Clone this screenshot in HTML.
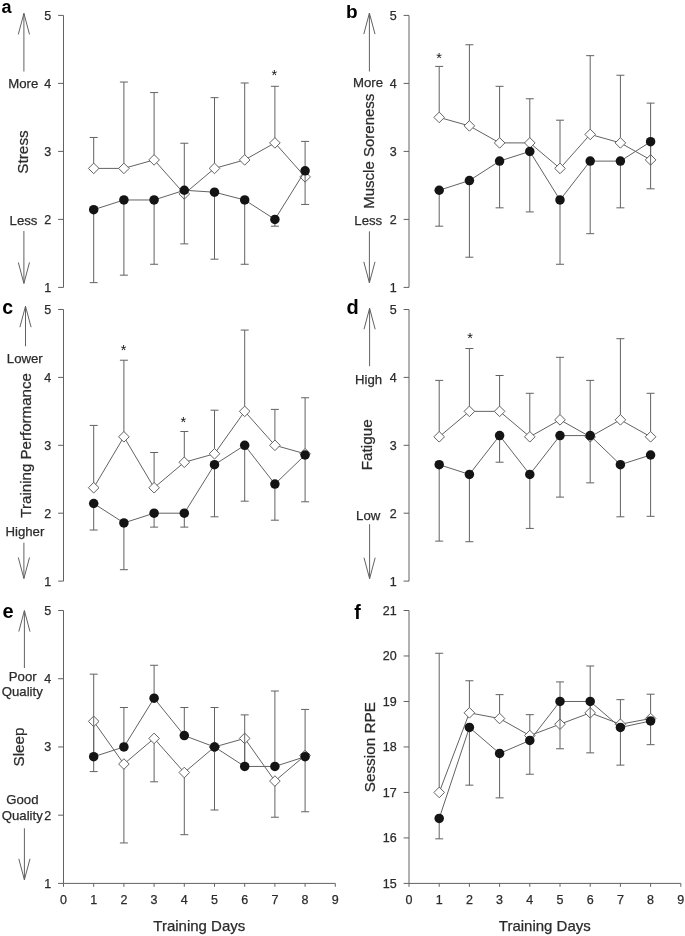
<!DOCTYPE html>
<html><head><meta charset="utf-8"><title>Figure</title>
<style>
html,body{margin:0;padding:0;background:#fff;}
body{width:685px;height:936px;overflow:hidden;}
svg{display:block;will-change:transform;}
text{font-family:"Liberation Sans",sans-serif;fill:#2b2b2b;stroke:#2b2b2b;stroke-width:0.25px;}
.l{fill:none;stroke:#626262;stroke-width:1.0;}
.d{fill:#fff;stroke:#626262;stroke-width:1.0;}
.c{fill:#141414;}
.n{font-size:12.5px;}
.t{font-size:13.2px;}
.v{font-size:15.2px;}
.h{font-size:15px;}
.b{font-size:17.5px;font-weight:bold;fill:#000;stroke:none;}
.s{font-size:14.5px;fill:#111;stroke:none;}
</style></head>
<body>
<svg width="685" height="936" viewBox="0 0 685 936">
<rect width="685" height="936" fill="#fff"/>
<path d="M63.5 15.4V287.4" class="l"/>
<path d="M58.1 287.4H63.5" class="l"/>
<path d="M58.1 219.4H63.5" class="l"/>
<path d="M58.1 151.4H63.5" class="l"/>
<path d="M58.1 83.4H63.5" class="l"/>
<path d="M58.1 15.4H63.5" class="l"/>
<path d="M93.7 168.4V137.46M89.7 137.46h8" class="l"/>
<path d="M123.9 168.4V82.04M119.9 82.04h8" class="l"/>
<path d="M154.1 159.9V92.58M150.1 92.58h8" class="l"/>
<path d="M184.3 193.9V143.24M180.3 143.24h8" class="l"/>
<path d="M214.5 168.4V97.68M210.5 97.68h8" class="l"/>
<path d="M244.7 159.9V82.99M240.7 82.99h8" class="l"/>
<path d="M274.9 142.9V86.32M270.9 86.32h8" class="l"/>
<path d="M305.1 176.9V141.4M301.1 141.4h8" class="l"/>
<polyline points="93.7,168.4 123.9,168.4 154.1,159.9 184.3,193.9 214.5,168.4 244.7,159.9 274.9,142.9 305.1,176.9" class="l"/>
<path d="M93.7 163.1L99 168.4L93.7 173.7L88.4 168.4Z" class="d"/>
<path d="M123.9 163.1L129.2 168.4L123.9 173.7L118.6 168.4Z" class="d"/>
<path d="M154.1 154.6L159.4 159.9L154.1 165.2L148.8 159.9Z" class="d"/>
<path d="M184.3 188.6L189.6 193.9L184.3 199.2L179 193.9Z" class="d"/>
<path d="M214.5 163.1L219.8 168.4L214.5 173.7L209.2 168.4Z" class="d"/>
<path d="M244.7 154.6L250 159.9L244.7 165.2L239.4 159.9Z" class="d"/>
<path d="M274.9 137.6L280.2 142.9L274.9 148.2L269.6 142.9Z" class="d"/>
<path d="M305.1 171.6L310.4 176.9L305.1 182.2L299.8 176.9Z" class="d"/>
<path d="M93.7 209.69V282.64M89.7 282.64h8" class="l"/>
<path d="M123.9 199.97V275.16M119.9 275.16h8" class="l"/>
<path d="M154.1 199.97V264.28M150.1 264.28h8" class="l"/>
<path d="M184.3 190.26V243.88M180.3 243.88h8" class="l"/>
<path d="M214.5 192.2V259.18M210.5 259.18h8" class="l"/>
<path d="M244.7 199.97V264.28M240.7 264.28h8" class="l"/>
<path d="M274.9 219.4V226.2M270.9 226.2h8" class="l"/>
<path d="M305.1 170.83V204.44M301.1 204.44h8" class="l"/>
<polyline points="93.7,209.69 123.9,199.97 154.1,199.97 184.3,190.26 214.5,192.2 244.7,199.97 274.9,219.4 305.1,170.83" class="l"/>
<circle cx="93.7" cy="209.69" r="4.75" class="c"/>
<circle cx="123.9" cy="199.97" r="4.75" class="c"/>
<circle cx="154.1" cy="199.97" r="4.75" class="c"/>
<circle cx="184.3" cy="190.26" r="4.75" class="c"/>
<circle cx="214.5" cy="192.2" r="4.75" class="c"/>
<circle cx="244.7" cy="199.97" r="4.75" class="c"/>
<circle cx="274.9" cy="219.4" r="4.75" class="c"/>
<circle cx="305.1" cy="170.83" r="4.75" class="c"/>
<text x="51.1" y="291.9" class="n" text-anchor="end">1</text>
<text x="51.1" y="223.9" class="n" text-anchor="end">2</text>
<text x="51.1" y="155.9" class="n" text-anchor="end">3</text>
<text x="51.1" y="87.9" class="n" text-anchor="end">4</text>
<text x="51.1" y="19.9" class="n" text-anchor="end">5</text>
<text x="1.6" y="12.5" class="b" style="font-size:18px">a</text>
<path d="M23.9 71.5V13.4M18.3 34.4L23.9 13.4L29.5 34.4" class="l"/>
<text x="23.2" y="87.5" class="t" text-anchor="middle">More</text>
<text transform="translate(27.5 152) rotate(-90)" class="v" style="font-size:15.3px" text-anchor="middle">Stress</text>
<text x="23.5" y="225" class="t" text-anchor="middle">Less</text>
<path d="M23.9 231V283.4M18.3 262.4L23.9 283.4L29.5 262.4" class="l"/>
<text x="274.3" y="80" class="s" text-anchor="middle">*</text>
<path d="M409 15.4V287.4" class="l"/>
<path d="M403.6 287.4H409" class="l"/>
<path d="M403.6 219.4H409" class="l"/>
<path d="M403.6 151.4H409" class="l"/>
<path d="M403.6 83.4H409" class="l"/>
<path d="M403.6 15.4H409" class="l"/>
<path d="M439.2 117.4V66.4M435.2 66.4h8" class="l"/>
<path d="M469.4 125.9V44.78M465.4 44.78h8" class="l"/>
<path d="M499.6 142.9V86.32M495.6 86.32h8" class="l"/>
<path d="M529.8 142.9V98.77M525.8 98.77h8" class="l"/>
<path d="M560 168.4V120.19M556 120.19h8" class="l"/>
<path d="M590.2 134.4V55.66M586.2 55.66h8" class="l"/>
<path d="M620.4 142.9V75.24M616.4 75.24h8" class="l"/>
<path d="M650.6 159.9V103.12M646.6 103.12h8" class="l"/>
<polyline points="439.2,117.4 469.4,125.9 499.6,142.9 529.8,142.9 560,168.4 590.2,134.4 620.4,142.9 650.6,159.9" class="l"/>
<path d="M439.2 112.1L444.5 117.4L439.2 122.7L433.9 117.4Z" class="d"/>
<path d="M469.4 120.6L474.7 125.9L469.4 131.2L464.1 125.9Z" class="d"/>
<path d="M499.6 137.6L504.9 142.9L499.6 148.2L494.3 142.9Z" class="d"/>
<path d="M529.8 137.6L535.1 142.9L529.8 148.2L524.5 142.9Z" class="d"/>
<path d="M560 163.1L565.3 168.4L560 173.7L554.7 168.4Z" class="d"/>
<path d="M590.2 129.1L595.5 134.4L590.2 139.7L584.9 134.4Z" class="d"/>
<path d="M620.4 137.6L625.7 142.9L620.4 148.2L615.1 142.9Z" class="d"/>
<path d="M650.6 154.6L655.9 159.9L650.6 165.2L645.3 159.9Z" class="d"/>
<path d="M439.2 190.26V226.2M435.2 226.2h8" class="l"/>
<path d="M469.4 180.54V257.21M465.4 257.21h8" class="l"/>
<path d="M499.6 161.11V207.84M495.6 207.84h8" class="l"/>
<path d="M529.8 151.4V211.92M525.8 211.92h8" class="l"/>
<path d="M560 199.97V264.28M556 264.28h8" class="l"/>
<path d="M590.2 161.11V233.68M586.2 233.68h8" class="l"/>
<path d="M620.4 161.11V207.84M616.4 207.84h8" class="l"/>
<path d="M650.6 141.69V188.8M646.6 188.8h8" class="l"/>
<polyline points="439.2,190.26 469.4,180.54 499.6,161.11 529.8,151.4 560,199.97 590.2,161.11 620.4,161.11 650.6,141.69" class="l"/>
<circle cx="439.2" cy="190.26" r="4.75" class="c"/>
<circle cx="469.4" cy="180.54" r="4.75" class="c"/>
<circle cx="499.6" cy="161.11" r="4.75" class="c"/>
<circle cx="529.8" cy="151.4" r="4.75" class="c"/>
<circle cx="560" cy="199.97" r="4.75" class="c"/>
<circle cx="590.2" cy="161.11" r="4.75" class="c"/>
<circle cx="620.4" cy="161.11" r="4.75" class="c"/>
<circle cx="650.6" cy="141.69" r="4.75" class="c"/>
<text x="396.6" y="291.9" class="n" text-anchor="end">1</text>
<text x="396.6" y="223.9" class="n" text-anchor="end">2</text>
<text x="396.6" y="155.9" class="n" text-anchor="end">3</text>
<text x="396.6" y="87.9" class="n" text-anchor="end">4</text>
<text x="396.6" y="19.9" class="n" text-anchor="end">5</text>
<text x="346" y="18.1" class="b" style="font-size:19px">b</text>
<path d="M369.4 71.5V13.1M363.8 34.1L369.4 13.1L375 34.1" class="l"/>
<text x="368" y="86.5" class="t" text-anchor="middle">More</text>
<text transform="translate(374.3 151.2) rotate(-90)" class="v" style="font-size:15.0px" text-anchor="middle">Muscle Soreness</text>
<text x="368.3" y="225" class="t" text-anchor="middle">Less</text>
<path d="M369.4 231.3V282.8M363.8 261.8L369.4 282.8L375 261.8" class="l"/>
<text x="439.1" y="62.8" class="s" text-anchor="middle">*</text>
<path d="M63.5 309.5V581.1" class="l"/>
<path d="M58.1 581.1H63.5" class="l"/>
<path d="M58.1 513.2H63.5" class="l"/>
<path d="M58.1 445.3H63.5" class="l"/>
<path d="M58.1 377.4H63.5" class="l"/>
<path d="M58.1 309.5H63.5" class="l"/>
<path d="M93.7 487.74V425.41M89.7 425.41h8" class="l"/>
<path d="M123.9 436.81V360.22M119.9 360.22h8" class="l"/>
<path d="M154.1 487.74V452.5M150.1 452.5h8" class="l"/>
<path d="M184.3 462.27V431.52M180.3 431.52h8" class="l"/>
<path d="M214.5 453.79V410.2M210.5 410.2h8" class="l"/>
<path d="M244.7 411.35V330.07M240.7 330.07h8" class="l"/>
<path d="M274.9 445.3V409.38M270.9 409.38h8" class="l"/>
<path d="M305.1 453.79V397.77M301.1 397.77h8" class="l"/>
<polyline points="93.7,487.74 123.9,436.81 154.1,487.74 184.3,462.27 214.5,453.79 244.7,411.35 274.9,445.3 305.1,453.79" class="l"/>
<path d="M93.7 482.44L99 487.74L93.7 493.04L88.4 487.74Z" class="d"/>
<path d="M123.9 431.51L129.2 436.81L123.9 442.11L118.6 436.81Z" class="d"/>
<path d="M154.1 482.44L159.4 487.74L154.1 493.04L148.8 487.74Z" class="d"/>
<path d="M184.3 456.97L189.6 462.27L184.3 467.57L179 462.27Z" class="d"/>
<path d="M214.5 448.49L219.8 453.79L214.5 459.09L209.2 453.79Z" class="d"/>
<path d="M244.7 406.05L250 411.35L244.7 416.65L239.4 411.35Z" class="d"/>
<path d="M274.9 440L280.2 445.3L274.9 450.6L269.6 445.3Z" class="d"/>
<path d="M305.1 448.49L310.4 453.79L305.1 459.09L299.8 453.79Z" class="d"/>
<path d="M93.7 503.5V530.04M89.7 530.04h8" class="l"/>
<path d="M123.9 522.9V569.69M119.9 569.69h8" class="l"/>
<path d="M154.1 513.2V527.12M150.1 527.12h8" class="l"/>
<path d="M184.3 513.2V527.12M180.3 527.12h8" class="l"/>
<path d="M214.5 464.7V516.8M210.5 516.8h8" class="l"/>
<path d="M244.7 445.3V501.18M240.7 501.18h8" class="l"/>
<path d="M274.9 484.1V520.19M270.9 520.19h8" class="l"/>
<path d="M305.1 455V501.79M301.1 501.79h8" class="l"/>
<polyline points="93.7,503.5 123.9,522.9 154.1,513.2 184.3,513.2 214.5,464.7 244.7,445.3 274.9,484.1 305.1,455" class="l"/>
<circle cx="93.7" cy="503.5" r="4.75" class="c"/>
<circle cx="123.9" cy="522.9" r="4.75" class="c"/>
<circle cx="154.1" cy="513.2" r="4.75" class="c"/>
<circle cx="184.3" cy="513.2" r="4.75" class="c"/>
<circle cx="214.5" cy="464.7" r="4.75" class="c"/>
<circle cx="244.7" cy="445.3" r="4.75" class="c"/>
<circle cx="274.9" cy="484.1" r="4.75" class="c"/>
<circle cx="305.1" cy="455" r="4.75" class="c"/>
<text x="51.1" y="585.6" class="n" text-anchor="end">1</text>
<text x="51.1" y="517.7" class="n" text-anchor="end">2</text>
<text x="51.1" y="449.8" class="n" text-anchor="end">3</text>
<text x="51.1" y="381.9" class="n" text-anchor="end">4</text>
<text x="51.1" y="314" class="n" text-anchor="end">5</text>
<text x="2.2" y="314" class="b" style="font-size:19.5px">c</text>
<path d="M25.5 346.3V306.2M19.9 327.2L25.5 306.2L31.1 327.2" class="l"/>
<text x="24.8" y="363" class="t" text-anchor="middle">Lower</text>
<text transform="translate(30.7 445.4) rotate(-90)" class="v" style="font-size:15.1px" text-anchor="middle">Training Performance</text>
<text x="24.9" y="536.4" class="t" text-anchor="middle">Higher</text>
<path d="M23.9 542.7V578.5M18.3 557.5L23.9 578.5L29.5 557.5" class="l"/>
<text x="123.7" y="354.6" class="s" text-anchor="middle">*</text>
<text x="183.3" y="426.5" class="s" text-anchor="middle">*</text>
<path d="M409 309.5V581.1" class="l"/>
<path d="M403.6 581.1H409" class="l"/>
<path d="M403.6 513.2H409" class="l"/>
<path d="M403.6 445.3H409" class="l"/>
<path d="M403.6 377.4H409" class="l"/>
<path d="M403.6 309.5H409" class="l"/>
<path d="M439.2 436.81V380.39M435.2 380.39h8" class="l"/>
<path d="M469.4 411.35V348.54M465.4 348.54h8" class="l"/>
<path d="M499.6 411.35V375.5M495.6 375.5h8" class="l"/>
<path d="M529.8 436.81V393.29M525.8 393.29h8" class="l"/>
<path d="M560 419.84V357.3M556 357.3h8" class="l"/>
<path d="M590.2 436.81V380.39M586.2 380.39h8" class="l"/>
<path d="M620.4 419.84V338.7M616.4 338.7h8" class="l"/>
<path d="M650.6 436.81V393.29M646.6 393.29h8" class="l"/>
<polyline points="439.2,436.81 469.4,411.35 499.6,411.35 529.8,436.81 560,419.84 590.2,436.81 620.4,419.84 650.6,436.81" class="l"/>
<path d="M439.2 431.51L444.5 436.81L439.2 442.11L433.9 436.81Z" class="d"/>
<path d="M469.4 406.05L474.7 411.35L469.4 416.65L464.1 411.35Z" class="d"/>
<path d="M499.6 406.05L504.9 411.35L499.6 416.65L494.3 411.35Z" class="d"/>
<path d="M529.8 431.51L535.1 436.81L529.8 442.11L524.5 436.81Z" class="d"/>
<path d="M560 414.54L565.3 419.84L560 425.14L554.7 419.84Z" class="d"/>
<path d="M590.2 431.51L595.5 436.81L590.2 442.11L584.9 436.81Z" class="d"/>
<path d="M620.4 414.54L625.7 419.84L620.4 425.14L615.1 419.84Z" class="d"/>
<path d="M650.6 431.51L655.9 436.81L650.6 442.11L645.3 436.81Z" class="d"/>
<path d="M439.2 464.7V541.11M435.2 541.11h8" class="l"/>
<path d="M469.4 474.4V541.72M465.4 541.72h8" class="l"/>
<path d="M499.6 435.6V462.21M495.6 462.21h8" class="l"/>
<path d="M529.8 474.4V528.41M525.8 528.41h8" class="l"/>
<path d="M560 435.6V497.11M556 497.11h8" class="l"/>
<path d="M590.2 435.6V482.85M586.2 482.85h8" class="l"/>
<path d="M620.4 464.7V516.8M616.4 516.8h8" class="l"/>
<path d="M650.6 455V516.32M646.6 516.32h8" class="l"/>
<polyline points="439.2,464.7 469.4,474.4 499.6,435.6 529.8,474.4 560,435.6 590.2,435.6 620.4,464.7 650.6,455" class="l"/>
<circle cx="439.2" cy="464.7" r="4.75" class="c"/>
<circle cx="469.4" cy="474.4" r="4.75" class="c"/>
<circle cx="499.6" cy="435.6" r="4.75" class="c"/>
<circle cx="529.8" cy="474.4" r="4.75" class="c"/>
<circle cx="560" cy="435.6" r="4.75" class="c"/>
<circle cx="590.2" cy="435.6" r="4.75" class="c"/>
<circle cx="620.4" cy="464.7" r="4.75" class="c"/>
<circle cx="650.6" cy="455" r="4.75" class="c"/>
<text x="396.6" y="585.6" class="n" text-anchor="end">1</text>
<text x="396.6" y="517.7" class="n" text-anchor="end">2</text>
<text x="396.6" y="449.8" class="n" text-anchor="end">3</text>
<text x="396.6" y="381.9" class="n" text-anchor="end">4</text>
<text x="396.6" y="314" class="n" text-anchor="end">5</text>
<text x="346.6" y="314.3" class="b" style="font-size:20px">d</text>
<path d="M369.6 366.2V308.3M364 329.3L369.6 308.3L375.2 329.3" class="l"/>
<text x="368.6" y="383.6" class="t" text-anchor="middle">High</text>
<text transform="translate(372.2 444.8) rotate(-90)" class="v" style="font-size:15.3px" text-anchor="middle">Fatigue</text>
<text x="368.2" y="519.5" class="t" text-anchor="middle">Low</text>
<path d="M369.6 524.2V578.7M364 557.7L369.6 578.7L375.2 557.7" class="l"/>
<text x="470.1" y="343.2" class="s" text-anchor="middle">*</text>
<path d="M63.5 610.5V883.4" class="l"/>
<path d="M58.1 883.4H63.5" class="l"/>
<path d="M58.1 815.17H63.5" class="l"/>
<path d="M58.1 746.95H63.5" class="l"/>
<path d="M58.1 678.73H63.5" class="l"/>
<path d="M58.1 610.5H63.5" class="l"/>
<path d="M63.5 883.4H335.3" class="l"/>
<path d="M63.5 883.4v3.4" class="l"/>
<path d="M93.7 883.4v3.4" class="l"/>
<path d="M123.9 883.4v3.4" class="l"/>
<path d="M154.1 883.4v3.4" class="l"/>
<path d="M184.3 883.4v3.4" class="l"/>
<path d="M214.5 883.4v3.4" class="l"/>
<path d="M244.7 883.4v3.4" class="l"/>
<path d="M274.9 883.4v3.4" class="l"/>
<path d="M305.1 883.4v3.4" class="l"/>
<path d="M335.3 883.4v3.4" class="l"/>
<path d="M93.7 721.37V771.58M89.7 771.58h8" class="l"/>
<path d="M123.9 764.01V842.94M119.9 842.94h8" class="l"/>
<path d="M154.1 738.42V781.81M150.1 781.81h8" class="l"/>
<path d="M184.3 772.53V834.69M180.3 834.69h8" class="l"/>
<path d="M214.5 746.95V809.99M210.5 809.99h8" class="l"/>
<path d="M244.7 738.42V764.01M240.7 764.01h8" class="l"/>
<path d="M274.9 781.06V817.22M270.9 817.22h8" class="l"/>
<path d="M305.1 755.48V811.76M301.1 811.76h8" class="l"/>
<polyline points="93.7,721.37 123.9,764.01 154.1,738.42 184.3,772.53 214.5,746.95 244.7,738.42 274.9,781.06 305.1,755.48" class="l"/>
<path d="M93.7 716.07L99 721.37L93.7 726.67L88.4 721.37Z" class="d"/>
<path d="M123.9 758.71L129.2 764.01L123.9 769.31L118.6 764.01Z" class="d"/>
<path d="M154.1 733.12L159.4 738.42L154.1 743.72L148.8 738.42Z" class="d"/>
<path d="M184.3 767.23L189.6 772.53L184.3 777.83L179 772.53Z" class="d"/>
<path d="M214.5 741.65L219.8 746.95L214.5 752.25L209.2 746.95Z" class="d"/>
<path d="M244.7 733.12L250 738.42L244.7 743.72L239.4 738.42Z" class="d"/>
<path d="M274.9 775.76L280.2 781.06L274.9 786.36L269.6 781.06Z" class="d"/>
<path d="M305.1 750.18L310.4 755.48L305.1 760.78L299.8 755.48Z" class="d"/>
<path d="M93.7 756.7V674.15M89.7 674.15h8" class="l"/>
<path d="M123.9 746.95V707.52M119.9 707.52h8" class="l"/>
<path d="M154.1 698.22V665.28M150.1 665.28h8" class="l"/>
<path d="M184.3 735.58V707.52M180.3 707.52h8" class="l"/>
<path d="M214.5 746.95V707.52M210.5 707.52h8" class="l"/>
<path d="M244.7 766.44V714.88M240.7 714.88h8" class="l"/>
<path d="M274.9 766.44V691.01M270.9 691.01h8" class="l"/>
<path d="M305.1 756.7V709.43M301.1 709.43h8" class="l"/>
<polyline points="93.7,756.7 123.9,746.95 154.1,698.22 184.3,735.58 214.5,746.95 244.7,766.44 274.9,766.44 305.1,756.7" class="l"/>
<circle cx="93.7" cy="756.7" r="4.75" class="c"/>
<circle cx="123.9" cy="746.95" r="4.75" class="c"/>
<circle cx="154.1" cy="698.22" r="4.75" class="c"/>
<circle cx="184.3" cy="735.58" r="4.75" class="c"/>
<circle cx="214.5" cy="746.95" r="4.75" class="c"/>
<circle cx="244.7" cy="766.44" r="4.75" class="c"/>
<circle cx="274.9" cy="766.44" r="4.75" class="c"/>
<circle cx="305.1" cy="756.7" r="4.75" class="c"/>
<text x="51.1" y="887.9" class="n" text-anchor="end">1</text>
<text x="51.1" y="819.67" class="n" text-anchor="end">2</text>
<text x="51.1" y="751.45" class="n" text-anchor="end">3</text>
<text x="51.1" y="683.23" class="n" text-anchor="end">4</text>
<text x="51.1" y="615" class="n" text-anchor="end">5</text>
<text x="63.5" y="904.4" class="n" text-anchor="middle">0</text>
<text x="93.7" y="904.4" class="n" text-anchor="middle">1</text>
<text x="123.9" y="904.4" class="n" text-anchor="middle">2</text>
<text x="154.1" y="904.4" class="n" text-anchor="middle">3</text>
<text x="184.3" y="904.4" class="n" text-anchor="middle">4</text>
<text x="214.5" y="904.4" class="n" text-anchor="middle">5</text>
<text x="244.7" y="904.4" class="n" text-anchor="middle">6</text>
<text x="274.9" y="904.4" class="n" text-anchor="middle">7</text>
<text x="305.1" y="904.4" class="n" text-anchor="middle">8</text>
<text x="335.3" y="904.4" class="n" text-anchor="middle">9</text>
<text x="2.6" y="617.8" class="b" style="font-size:20px">e</text>
<path d="M24.4 668V610.6M18.8 631.6L24.4 610.6L30 631.6" class="l"/>
<text x="22.7" y="680.9" class="t" text-anchor="middle">Poor</text>
<text x="22.3" y="696.2" class="t" text-anchor="middle">Quality</text>
<text transform="translate(24.4 747) rotate(-90)" class="v" style="font-size:15.3px" text-anchor="middle">Sleep</text>
<text x="22.4" y="804.2" class="t" text-anchor="middle">Good</text>
<text x="22.3" y="819.5" class="t" text-anchor="middle">Quality</text>
<path d="M24.4 828.3V879.8M18.8 858.8L24.4 879.8L30 858.8" class="l"/>
<text x="199.3" y="930.9" class="h" text-anchor="middle">Training Days</text>
<path d="M409 610.5V883.4" class="l"/>
<path d="M403.6 883.4H409" class="l"/>
<path d="M403.6 837.92H409" class="l"/>
<path d="M403.6 792.43H409" class="l"/>
<path d="M403.6 746.95H409" class="l"/>
<path d="M403.6 701.47H409" class="l"/>
<path d="M403.6 655.98H409" class="l"/>
<path d="M403.6 610.5H409" class="l"/>
<path d="M409 883.4H680.8" class="l"/>
<path d="M409 883.4v3.4" class="l"/>
<path d="M439.2 883.4v3.4" class="l"/>
<path d="M469.4 883.4v3.4" class="l"/>
<path d="M499.6 883.4v3.4" class="l"/>
<path d="M529.8 883.4v3.4" class="l"/>
<path d="M560 883.4v3.4" class="l"/>
<path d="M590.2 883.4v3.4" class="l"/>
<path d="M620.4 883.4v3.4" class="l"/>
<path d="M650.6 883.4v3.4" class="l"/>
<path d="M680.8 883.4v3.4" class="l"/>
<path d="M439.2 792.43V653.25M435.2 653.25h8" class="l"/>
<path d="M469.4 712.84V680.77M465.4 680.77h8" class="l"/>
<path d="M499.6 718.52V694.64M495.6 694.64h8" class="l"/>
<path d="M529.8 735.58V714.66M525.8 714.66h8" class="l"/>
<path d="M560 724.21V681.91M556 681.91h8" class="l"/>
<path d="M590.2 712.84V665.99M586.2 665.99h8" class="l"/>
<path d="M620.4 724.21V699.65M616.4 699.65h8" class="l"/>
<path d="M650.6 718.52V694.19M646.6 694.19h8" class="l"/>
<polyline points="439.2,792.43 469.4,712.84 499.6,718.52 529.8,735.58 560,724.21 590.2,712.84 620.4,724.21 650.6,718.52" class="l"/>
<path d="M439.2 787.13L444.5 792.43L439.2 797.73L433.9 792.43Z" class="d"/>
<path d="M469.4 707.54L474.7 712.84L469.4 718.14L464.1 712.84Z" class="d"/>
<path d="M499.6 713.22L504.9 718.52L499.6 723.82L494.3 718.52Z" class="d"/>
<path d="M529.8 730.28L535.1 735.58L529.8 740.88L524.5 735.58Z" class="d"/>
<path d="M560 718.91L565.3 724.21L560 729.51L554.7 724.21Z" class="d"/>
<path d="M590.2 707.54L595.5 712.84L590.2 718.14L584.9 712.84Z" class="d"/>
<path d="M620.4 718.91L625.7 724.21L620.4 729.51L615.1 724.21Z" class="d"/>
<path d="M650.6 713.22L655.9 718.52L650.6 723.82L645.3 718.52Z" class="d"/>
<path d="M439.2 818.42V838.83M435.2 838.83h8" class="l"/>
<path d="M469.4 727.46V785.16M465.4 785.16h8" class="l"/>
<path d="M499.6 753.45V797.89M495.6 797.89h8" class="l"/>
<path d="M529.8 740.45V774.24M525.8 774.24h8" class="l"/>
<path d="M560 701.47V748.77M556 748.77h8" class="l"/>
<path d="M590.2 701.47V752.86M586.2 752.86h8" class="l"/>
<path d="M620.4 727.46V765.14M616.4 765.14h8" class="l"/>
<path d="M650.6 720.96V744.68M646.6 744.68h8" class="l"/>
<polyline points="439.2,818.42 469.4,727.46 499.6,753.45 529.8,740.45 560,701.47 590.2,701.47 620.4,727.46 650.6,720.96" class="l"/>
<circle cx="439.2" cy="818.42" r="4.75" class="c"/>
<circle cx="469.4" cy="727.46" r="4.75" class="c"/>
<circle cx="499.6" cy="753.45" r="4.75" class="c"/>
<circle cx="529.8" cy="740.45" r="4.75" class="c"/>
<circle cx="560" cy="701.47" r="4.75" class="c"/>
<circle cx="590.2" cy="701.47" r="4.75" class="c"/>
<circle cx="620.4" cy="727.46" r="4.75" class="c"/>
<circle cx="650.6" cy="720.96" r="4.75" class="c"/>
<text x="396.6" y="887.9" class="n" text-anchor="end">15</text>
<text x="396.6" y="842.42" class="n" text-anchor="end">16</text>
<text x="396.6" y="796.93" class="n" text-anchor="end">17</text>
<text x="396.6" y="751.45" class="n" text-anchor="end">18</text>
<text x="396.6" y="705.97" class="n" text-anchor="end">19</text>
<text x="396.6" y="660.48" class="n" text-anchor="end">20</text>
<text x="396.6" y="615" class="n" text-anchor="end">21</text>
<text x="409" y="904.4" class="n" text-anchor="middle">0</text>
<text x="439.2" y="904.4" class="n" text-anchor="middle">1</text>
<text x="469.4" y="904.4" class="n" text-anchor="middle">2</text>
<text x="499.6" y="904.4" class="n" text-anchor="middle">3</text>
<text x="529.8" y="904.4" class="n" text-anchor="middle">4</text>
<text x="560" y="904.4" class="n" text-anchor="middle">5</text>
<text x="590.2" y="904.4" class="n" text-anchor="middle">6</text>
<text x="620.4" y="904.4" class="n" text-anchor="middle">7</text>
<text x="650.6" y="904.4" class="n" text-anchor="middle">8</text>
<text x="680.8" y="904.4" class="n" text-anchor="middle">9</text>
<text x="354.2" y="618.6" class="b" style="font-size:19.5px">f</text>
<text transform="translate(375.2 747.2) rotate(-90)" class="v" style="font-size:15.3px" text-anchor="middle">Session RPE</text>
<text x="544.8" y="930.9" class="h" text-anchor="middle">Training Days</text>
</svg>
</body></html>
